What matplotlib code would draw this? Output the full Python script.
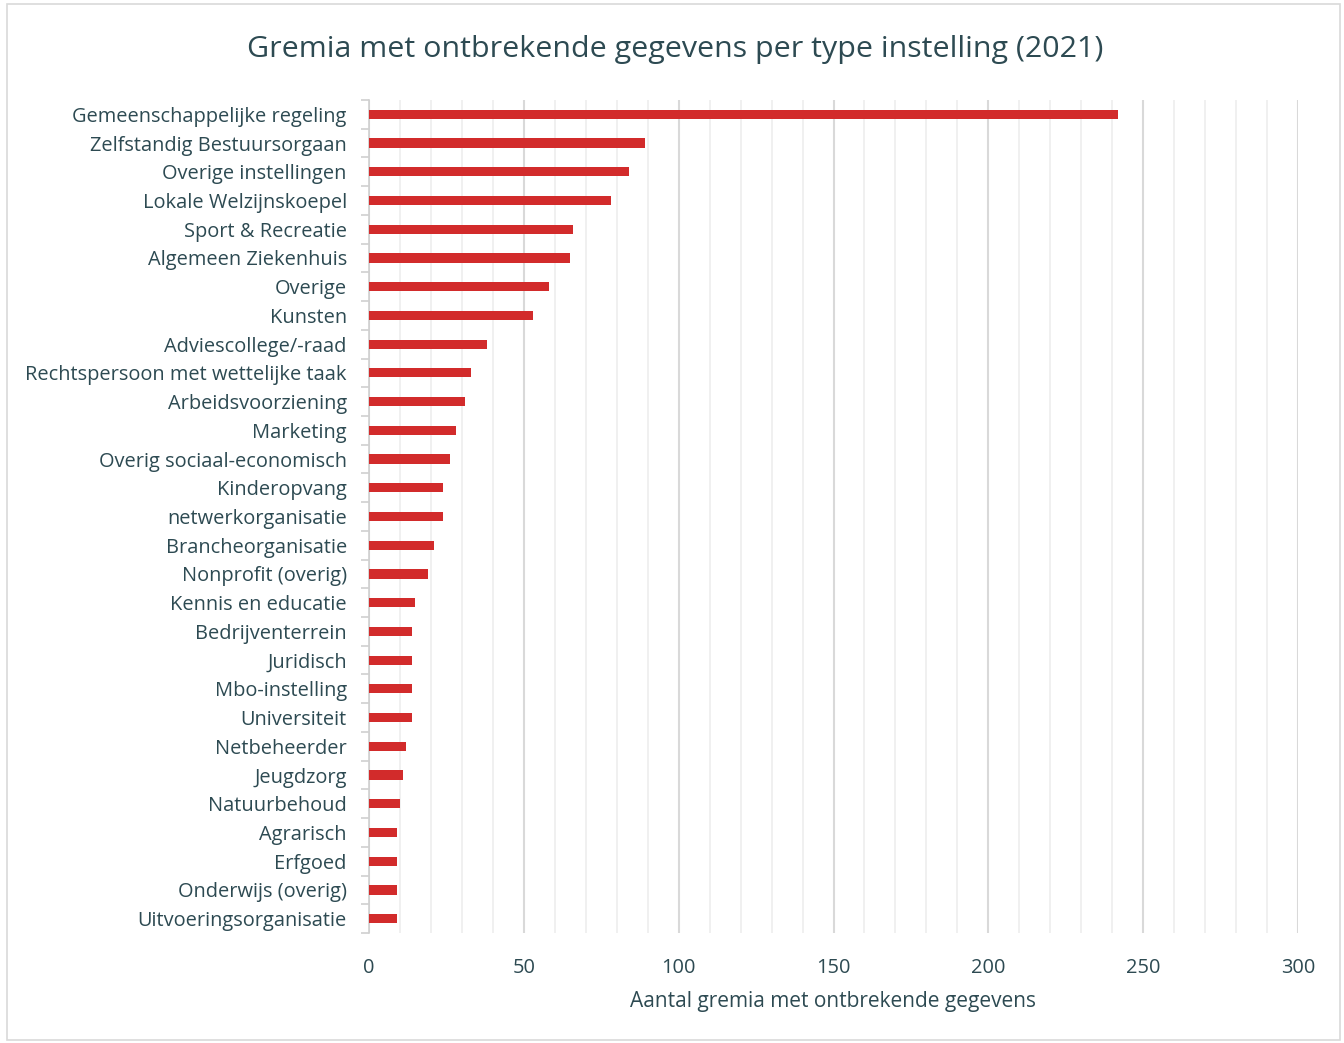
import matplotlib.pyplot as plt
from matplotlib.patches import Rectangle

plt.rcParams['font.family'] = ['Open Sans', 'DejaVu Sans']

categorieen = ["Gemeenschappelijke regeling", "Zelfstandig Bestuursorgaan", "Overige instellingen",
               "Lokale Welzijnskoepel", "Sport & Recreatie", "Algemeen Ziekenhuis", "Overige",
               "Kunsten", "Adviescollege/-raad", "Rechtspersoon met wettelijke taak",
               "Arbeidsvoorziening", "Marketing", "Overig sociaal-economisch", "Kinderopvang",
               "netwerkorganisatie", "Brancheorganisatie", "Nonprofit (overig)", "Kennis en educatie",
               "Bedrijventerrein", "Juridisch", "Mbo-instelling", "Universiteit", "Netbeheerder",
               "Jeugdzorg", "Natuurbehoud", "Agrarisch", "Erfgoed", "Onderwijs (overig)",
               "Uitvoeringsorganisatie"]
aantallen = [242, 89, 84, 78, 66, 65, 58, 53, 38, 33, 31, 28, 26, 24, 24, 21, 19, 15,
             14, 14, 14, 14, 12, 11, 10, 9, 9, 9, 9]

tekst = '#2d4a52'
rood = '#d22b2b'

fig = plt.figure(figsize=(13.44, 10.43), dpi=100)
ax = fig.add_axes([369/1344, 1 - 933/1043, (1298-369)/1344, (933-100)/1043])

# rand om de figuur
fig.patches.append(Rectangle((7/1344, 1 - 1040/1043), (1340-7)/1344, (1040-4)/1043,
                             transform=fig.transFigure, fill=False, edgecolor='#d9d9d9', lw=1.2))

y = list(range(len(categorieen)))
ax.barh(y, aantallen, height=0.32, color=rood, zorder=3)
ax.set_ylim(len(categorieen) - 0.5, -0.5)
ax.set_xlim(0, 300)

ax.set_yticks(y)
ax.set_yticklabels(categorieen, fontsize=14.4, color=tekst)
ax.set_yticks([i - 0.5 for i in range(len(categorieen) + 1)], minor=True)
ax.tick_params(axis='y', which='major', length=0, pad=16)
ax.tick_params(axis='y', which='minor', length=6, color='#d0d0d0', width=1.2)

ax.set_xticks(range(0, 301, 50))
ax.set_xticks(range(0, 301, 10), minor=True)
ax.tick_params(axis='x', which='both', length=0, labelsize=14.4, labelcolor=tekst, pad=18)
ax.grid(axis='x', which='major', color='#d9d9d9', lw=1.5, zorder=0)
ax.grid(axis='x', which='minor', color='#efefef', lw=1.3, zorder=0)

for s in ['top', 'right', 'bottom']:
    ax.spines[s].set_visible(False)
ax.spines['left'].set_color('#d0d0d0')
ax.spines['left'].set_linewidth(1.2)

ax.set_xlabel("Aantal gremia met ontbrekende gegevens", fontsize=15, color=tekst, labelpad=9)
fig.text(675/1344, 1 - 49/1043, "Gremia met ontbrekende gegevens per type instelling (2021)",
         fontsize=21.9, color=tekst, ha='center', va='center')

fig.savefig('out.png', dpi=100)
